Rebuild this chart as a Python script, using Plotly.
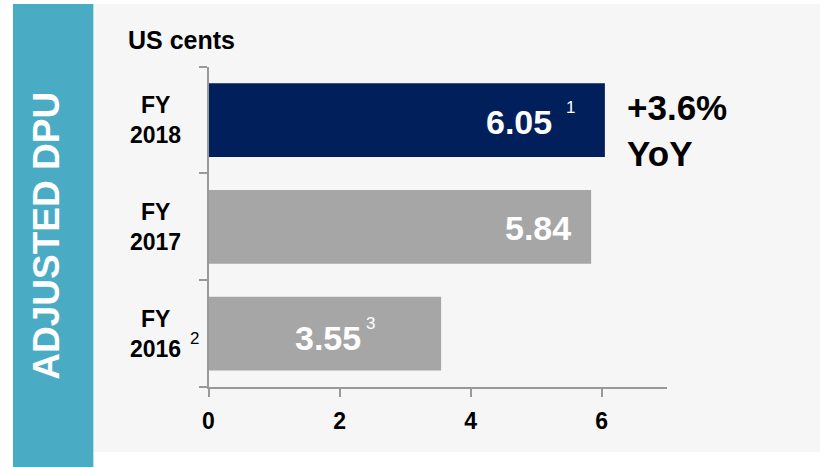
import plotly.graph_objects as go

# ---- data ----
categories = ["FY 2016", "FY 2017", "FY 2018"]
dpu_values = [3.55, 5.84, 6.05]
value_labels = ["3.55", "5.84", "6.05"]
value_footnotes = ["3", "", "1"]
category_labels = ["FY<br>2016", "FY<br>2017", "FY<br>2018"]
category_footnotes = ["2", "", ""]
x_tick_values = [0, 2, 4, 6]
yoy_text = "+3.6%<br>YoY"
unit_text = "US cents"
side_title = "ADJUSTED DPU"

# ---- style ----
FONT = "Liberation Sans, Arial, sans-serif"
W, H = 820, 467
bar_colors = ["#a6a6a6", "#a6a6a6", "#001f5b"]
value_xshift = [-78, -18, -51]
value_yshift = [-4, -1, -2]
foot_xshift = [-77, 0, -41]
foot_yshift = [10, 0, 13]
axis_col = "#999999"

def px_x(p):
    return p / W

def px_y(p):
    return (H - p) / H

fig = go.Figure()
fig.add_trace(go.Bar(
    y=categories, x=dpu_values, orientation="h",
    marker=dict(color=bar_colors, line=dict(width=0)),
    hoverinfo="skip",
))

annotations = []
# value labels inside bars
for cat, v, lab, xs, ys in zip(categories, dpu_values, value_labels, value_xshift, value_yshift):
    annotations.append(dict(x=v, y=cat, xref="x", yref="y", text=lab, showarrow=False,
                            xanchor="right", yanchor="middle", xshift=xs, yshift=ys,
                            font=dict(family=FONT, size=34, color="white", weight="bold")))
for cat, v, ft, xs, ys in zip(categories, dpu_values, value_footnotes, foot_xshift, foot_yshift):
    if ft:
        annotations.append(dict(x=v, y=cat, xref="x", yref="y", text=ft, showarrow=False,
                                xanchor="left", yanchor="middle", xshift=xs, yshift=ys,
                                font=dict(family=FONT, size=17, color="white")))
# category labels
for cat, lab, ft in zip(categories, category_labels, category_footnotes):
    annotations.append(dict(x=px_x(151), y=cat, xref="paper", yref="y", text=lab,
                            showarrow=False, xanchor="center", yanchor="middle", align="center",
                            font=dict(family=FONT, size=23, color="black", weight="bold")))
    if ft:
        annotations.append(dict(x=px_x(183), y=cat, xref="paper", yref="y", text=ft,
                                showarrow=False, xanchor="left", yanchor="middle", yshift=-5,
                                font=dict(family=FONT, size=17, color="black")))
# YoY
annotations.append(dict(x=px_x(624), y=categories[2], xref="paper", yref="y", text=yoy_text,
                        showarrow=False, xanchor="left", yanchor="middle", align="left", yshift=-10,
                        font=dict(family=FONT, size=35, color="black", weight="bold")))
# unit
annotations.append(dict(x=px_x(121), y=px_y(40), xref="paper", yref="paper", text=unit_text,
                        showarrow=False, xanchor="left", yanchor="middle",
                        font=dict(family=FONT, size=25, color="black", weight="bold")))
# side title
annotations.append(dict(x=px_x(40), y=px_y(236), xref="paper", yref="paper", text=side_title,
                        showarrow=False, xanchor="center", yanchor="middle", textangle=-90,
                        font=dict(family=FONT, size=37, color="white", weight="bold")))

shapes = [
    dict(type="rect", xref="paper", yref="paper", x0=px_x(88), x1=1.0, y0=px_y(452), y1=px_y(4),
         fillcolor="#f6f6f6", line=dict(width=0), layer="below"),
    dict(type="rect", xref="paper", yref="paper", x0=px_x(7), x1=px_x(88), y0=0, y1=px_y(4),
         fillcolor="#4aabc5", line=dict(width=0), layer="below"),
]

fig.update_layout(
    width=W, height=H,
    margin=dict(l=0, r=0, t=0, b=0),
    paper_bgcolor="white", plot_bgcolor="rgba(0,0,0,0)",
    showlegend=False, bargap=0.31,
    annotations=annotations, shapes=shapes,
    xaxis=dict(domain=[px_x(204), px_x(666)], range=[0, 7], tickvals=x_tick_values,
               showgrid=False, zeroline=False, showline=True, linecolor=axis_col, linewidth=2,
               ticks="outside", ticklen=8, tickcolor=axis_col, tickwidth=2,
               ticklabelstandoff=4,
               tickfont=dict(family=FONT, size=23, color="black", weight="bold"), fixedrange=True),
    yaxis=dict(domain=[px_y(387), px_y(66.7)], type="category", categoryorder="array",
               categoryarray=categories, range=[-0.5, 2.5], tickson="boundaries",
               showgrid=False, zeroline=False, showline=True, linecolor=axis_col, linewidth=2,
               ticks="outside", ticklen=8, tickcolor=axis_col, tickwidth=2,
               showticklabels=False, fixedrange=True),
)

fig.write_html("out.html", config={"displayModeBar": False})
